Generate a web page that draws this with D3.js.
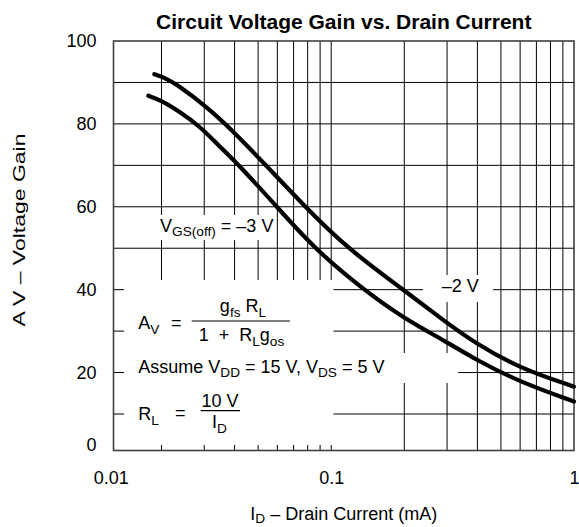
<!DOCTYPE html>
<html><head><meta charset="utf-8">
<script src="https://cdn.jsdelivr.net/npm/d3@7"></script>
<style>
body{margin:0;background:#fff}
text{font-family:"Liberation Sans",Arial,Helvetica,sans-serif;fill:#000;white-space:pre}
</style>
</head><body>
<svg id="c" width="579" height="527"></svg>
<script>
// ---- data ----
const seriesNames = ["VGS(off) = –3 V", "–2 V"];
const currentLow = [0.01654, 0.01957, 0.02383, 0.02882, 0.03269, 0.0383, 0.0417, 0.0598, 0.0849, 0.1356, 0.2013, 0.299, 0.397, 0.599, 1.0];
const gainLow    = [86.8,    85.8,    82.9,    79.3,    76.1,    72.1,   70,     60,     50,     40,     32.9,   27.4,  23.0,  17.7,  13.0];
const currentHigh = [0.01803, 0.02067, 0.02383, 0.03071, 0.0383, 0.0539, 0.0780, 0.1162, 0.1981, 0.299, 0.397, 0.599, 1.0];
const gainHigh    = [92.0,    91.1,    89.0,    84.1,    79.0,   70,     60,     50,     40,     32.0,  26.9,  21.0,  16.6];
const xTickValues = [0.01, 0.1, 1];
const xTickLabels = ["0.01", "0.1", "1"];
const yTickValues = [0, 20, 40, 60, 80, 100];
const yTickLabels = ["0", "20", "40", "60", "80", "100"];
const xGridValues = [0.02,0.03,0.04,0.05,0.06,0.07,0.08,0.09,0.1,0.2,0.3,0.4,0.5,0.6,0.7,0.8,0.9];
const yGridValues = [10,20,30,40,50,60,70,80,90];

// ---- layout ----
const svg = d3.select("#c");
const x = d3.scaleLog().domain([0.01, 0.02, 1]).range([113.5, 161.5, 574]);
const y = d3.scaleLinear().domain([0, 10, 100]).range([450.5, 414, 41]);
const FS = 18;

// grid
const grid = svg.append("g").attr("stroke", "#000").attr("stroke-width", 1);
grid.selectAll("line.v").data(xGridValues).join("line").attr("class", "v")
  .attr("x1", d => x(d)).attr("x2", d => x(d)).attr("y1", y(0)).attr("y2", y(100));
grid.selectAll("line.h").data(yGridValues).join("line").attr("class", "h")
  .attr("x1", x(0.01)).attr("x2", x(1)).attr("y1", d => y(d)).attr("y2", d => y(d));

// white label backgrounds (annotation layout)
const boxes = [
  {x0: 124, x1: 333.5, y0: 280, y1: 445},
  {x0: 333, x1: 458, y0: 353, y1: 383},
  {x0: 150, x1: 273, y0: 215, y1: 240},
  {x0: 423, x1: 493, y0: 275, y1: 302}
];
svg.append("g").selectAll("rect").data(boxes).join("rect")
  .attr("x", d => d.x0).attr("y", d => d.y0)
  .attr("width", d => d.x1 - d.x0).attr("height", d => d.y1 - d.y0)
  .attr("fill", "#fff");

// frame
svg.append("rect").attr("x", x(0.01)).attr("y", y(100))
  .attr("width", x(1) - x(0.01)).attr("height", y(0) - y(100))
  .attr("fill", "none").attr("stroke", "#404040").attr("stroke-width", 1.6);

// curves
const line = d3.line().x(d => x(d[0])).y(d => y(d[1])).curve(d3.curveBasis);
const curves = [d3.zip(currentLow, gainLow), d3.zip(currentHigh, gainHigh)];
svg.append("g").selectAll("path").data(curves).join("path")
  .attr("d", line).attr("fill", "none").attr("stroke", "#000")
  .attr("stroke-width", 4.2).attr("stroke-linecap", "round").attr("stroke-linejoin", "round");

// axes
const ya = svg.append("g").attr("transform", `translate(${x(0.01)},0)`)
  .call(d3.axisLeft(y).tickValues(yTickValues).tickFormat((d, i) => yTickLabels[i]).tickSize(0).tickPadding(17));
ya.select(".domain").remove();
ya.selectAll("text").attr("font-size", FS).attr("font-family", null)
  .filter(d => d === 0).attr("dy", "0.02em");
const xa = svg.append("g").attr("transform", `translate(0,${y(0)})`)
  .call(d3.axisBottom(x).tickValues(xTickValues).tickFormat((d, i) => xTickLabels[i]).tickSize(0).tickPadding(21));
xa.select(".domain").remove();
xa.selectAll("text").attr("font-size", FS).attr("font-family", null);
xa.selectAll("text").filter(d => d === 0.01).attr("dx", "-0.15em");

// rich text helper
function rich(parent, x0, y0, parts, size, anchor, shift) {
  const sh = size * (shift || 0.26);
  const t = parent.append("text").attr("x", x0).attr("y", y0)
    .attr("font-size", size).attr("text-anchor", anchor || "start");
  let shifted = false;
  parts.forEach(p => {
    const ts = t.append("tspan").text(p[0]);
    if (p[1]) {
      ts.attr("font-size", size * 0.76);
      if (!shifted) { ts.attr("dy", sh); shifted = true; }
    } else if (shifted) { ts.attr("dy", -sh); shifted = false; }
  });
  return t;
}

// title
svg.append("text").attr("x", (x(0.01) + x(1)) / 2).attr("y", 29)
  .attr("text-anchor", "middle").attr("font-size", 21).attr("font-weight", "bold")
  .text("Circuit Voltage Gain vs. Drain Current");

// axis titles
rich(svg, (x(0.01) + x(1)) / 2, 519.5, [["I"], ["D", 1], [" – Drain Current (mA)"]], FS, "middle", 0.18);
svg.append("text").attr("transform", "translate(25,230) rotate(-90)")
  .attr("text-anchor", "middle").attr("font-size", 17)
  .attr("textLength", 193).attr("lengthAdjust", "spacingAndGlyphs")
  .text("A V – Voltage Gain");

// annotations
const ann = svg.append("g");
rich(ann, 160, 231.7, [["V"], ["GS(off)", 1], [" = –3 V"]], FS);
rich(ann, 441.7, 292.3, [["–2 V"]], FS);
rich(ann, 138.3, 329, [["A"], ["V", 1]], FS);
ann.append("text").attr("x", 171).attr("y", 329).attr("font-size", FS).text("=");
ann.append("line").attr("x1", 191.7).attr("x2", 290).attr("y1", 321).attr("y2", 321)
  .attr("stroke", "#000").attr("stroke-width", 1.2);
rich(ann, 243, 312, [["g"], ["fs", 1], [" R"], ["L", 1]], FS, "middle");
rich(ann, 241.5, 341, [["1\u00a0 +\u00a0 R"], ["L", 1], ["g"], ["os", 1]], FS, "middle");
rich(ann, 138.3, 372.7, [["Assume V"], ["DD", 1], [" = 15 V, V"], ["DS", 1], [" = 5 V"]], FS);
rich(ann, 138.3, 420, [["R"], ["L", 1]], FS);
ann.append("text").attr("x", 175).attr("y", 419).attr("font-size", FS).text("=");
ann.append("line").attr("x1", 200.7).attr("x2", 240).attr("y1", 410.7).attr("y2", 410.7)
  .attr("stroke", "#000").attr("stroke-width", 1.2);
rich(ann, 220, 406.7, [["10 V"]], FS, "middle");
rich(ann, 219.5, 428.3, [["I"], ["D", 1]], FS, "middle");
</script>
</body></html>
